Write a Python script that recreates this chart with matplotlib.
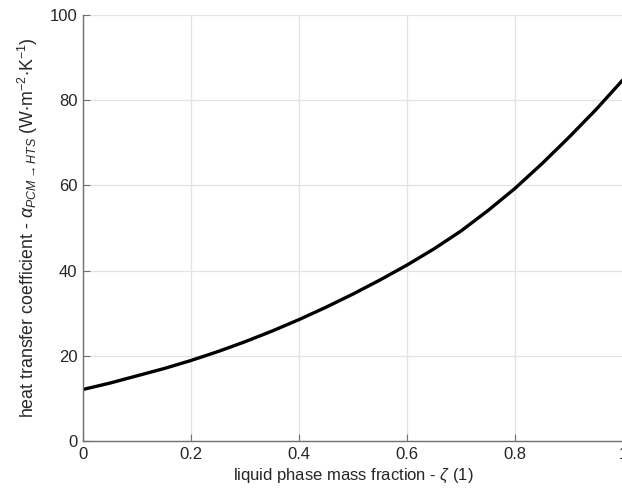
import matplotlib.pyplot as plt

plt.rcParams['font.family'] = ['Liberation Sans', 'DejaVu Sans']
plt.rcParams['mathtext.fontset'] = 'custom'
plt.rcParams['mathtext.rm'] = 'Liberation Sans'
plt.rcParams['mathtext.it'] = 'Liberation Sans:italic'
plt.rcParams['mathtext.fallback'] = 'stixsans'

# liquid fraction vs. heat transfer coefficient
zeta = [0.0, 0.05, 0.1, 0.15, 0.2, 0.25, 0.3, 0.35, 0.4, 0.45, 0.5,
        0.55, 0.6, 0.65, 0.7, 0.75, 0.8, 0.85, 0.9, 0.95, 1.0]
alpha = [12.1, 13.6, 15.3, 17.0, 18.9, 21.0, 23.3, 25.8, 28.5, 31.4, 34.5,
         37.8, 41.3, 45.1, 49.3, 54.1, 59.3, 65.1, 71.3, 77.8, 84.8]

xticks = [0, 0.2, 0.4, 0.6, 0.8, 1]
xticklabels = ['0', '0.2', '0.4', '0.6', '0.8', '1']
yticks = [0, 20, 40, 60, 80, 100]

fig = plt.figure(figsize=(6.22, 4.95), dpi=100)
ax = fig.add_axes([83 / 622, 1 - 441 / 495, 540 / 622, 426 / 495])

ax.plot(zeta, alpha, color='black', lw=2.4, solid_capstyle='butt')

ax.set_xlim(0, 1)
ax.set_ylim(0, 100)
ax.set_xticks(xticks)
ax.set_xticklabels(xticklabels)
ax.set_yticks(yticks)

ax.grid(True, color='#e3e3e3', lw=0.9)
ax.set_axisbelow(True)
for side in ['top', 'right']:
    ax.spines[side].set_visible(False)
for side in ['left', 'bottom']:
    ax.spines[side].set_color('#707070')
    ax.spines[side].set_linewidth(1.0)
ax.tick_params(direction='in', length=5, width=0.8, color='#707070',
               labelcolor='#262626', labelsize=12, pad=4)

ax.set_xlabel(r'liquid phase mass fraction - $\zeta$ (1)', fontsize=12,
              color='#262626', labelpad=4)
ax.set_ylabel(r'heat transfer coefficient - $\alpha_{PCM\rightarrow HTS}$ '
              r'(W$\cdot$m$^{-2}$$\cdot$K$^{-1}$)', fontsize=12.8,
              color='#262626', labelpad=7)

fig.savefig('out.png', dpi=100)
